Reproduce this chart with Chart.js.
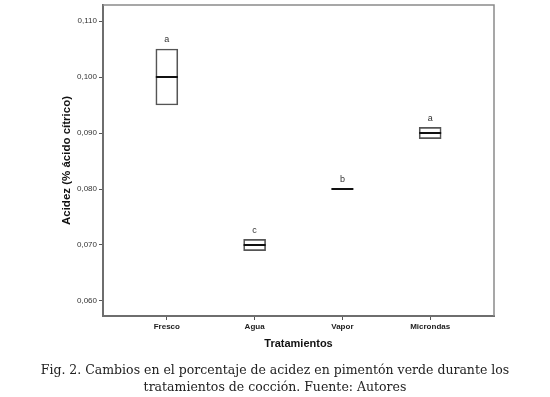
<!DOCTYPE html>
<html>
<head>
<meta charset="utf-8">
<script src="https://cdn.jsdelivr.net/npm/chart.js@4.4.1/dist/chart.umd.min.js"></script>
<style>
  html, body { margin: 0; padding: 0; background: #ffffff; }
  #wrap { position: relative; width: 550px; height: 397px; }
  #c { position: absolute; left: 0; top: 0; }
  #caption { position: absolute; left: 0; top: 361px; width: 550px; text-align: center;
    font-family: "DejaVu Serif", serif; font-size: 12.5px; line-height: 17px; color: #222; }
</style>
</head>
<body>
<div id="wrap">
  <canvas id="c" width="550" height="397"></canvas>
  <div id="caption">Fig. 2. Cambios en el porcentaje de acidez en pimentón verde durante los<br>tratamientos de cocción. Fuente: Autores</div>
</div>
<script>
const categories = ['Fresco', 'Agua', 'Vapor', 'Microndas'];
const q1Values = [0.095, 0.069, 0.080, 0.089];
const medianValues = [0.100, 0.070, 0.080, 0.090];
const q3Values = [0.105, 0.071, 0.080, 0.091];
const groupLetters = ['a', 'c', 'b', 'a'];
const yTickValues = [0.060, 0.070, 0.080, 0.090, 0.100, 0.110];
const xTitle = 'Tratamientos';
const yTitle = 'Acidez (% ácido cítrico)';

const boxData = categories.map((c, i) => ({ x: i, y: [q1Values[i], q3Values[i]] }));
const medianData = categories.map((c, i) => ({ x: i, y: medianValues[i] }));

const decor = {
  id: 'decor',
  afterDraw(chart) {
    const ctx = chart.ctx;
    const a = chart.chartArea;
    const xs = chart.scales.x, ys = chart.scales.y;
    ctx.save();
    // top and right frame
    ctx.strokeStyle = '#8a8a8a';
    ctx.lineWidth = 1.5;
    ctx.beginPath();
    ctx.moveTo(a.left, a.top);
    ctx.lineTo(a.right, a.top);
    ctx.lineTo(a.right, a.bottom);
    ctx.stroke();
    // group letters
    ctx.fillStyle = '#333';
    ctx.font = '9px "Liberation Sans", Arial, sans-serif';
    ctx.textAlign = 'center';
    ctx.textBaseline = 'middle';
    categories.forEach((c, i) => {
      ctx.fillText(groupLetters[i], xs.getPixelForValue(i), ys.getPixelForValue(q3Values[i]) - 9);
    });
    // axis titles
    ctx.fillStyle = '#111';
    ctx.font = 'bold 11px "Liberation Sans", Arial, sans-serif';
    ctx.fillText(xTitle, (a.left + a.right) / 2, 344);
    ctx.translate(67, (a.top + a.bottom) / 2);
    ctx.rotate(-Math.PI / 2);
    ctx.font = 'bold 11.5px "Liberation Sans", Arial, sans-serif';
    ctx.fillText(yTitle, 0, 0);
    ctx.restore();
  }
};

new Chart(document.getElementById('c'), {
  type: 'bar',
  data: {
    datasets: [
      {
        type: 'bar',
        data: boxData,
        backgroundColor: 'rgba(255,255,255,0)',
        borderColor: '#555',
        borderWidth: 1,
        borderSkipped: false,
        barThickness: 22,
        order: 2
      },
      {
        type: 'scatter',
        data: medianData,
        pointStyle: 'line',
        radius: 11,
        borderColor: '#111',
        borderWidth: 2,
        order: 1
      }
    ]
  },
  options: {
    responsive: false,
    animation: false,
    events: [],
    layout: { autoPadding: false, padding: { left: 0, right: 56, top: 5, bottom: 41 } },
    plugins: { legend: { display: false }, tooltip: { enabled: false }, title: { display: false } },
    scales: {
      x: {
        type: 'linear',
        offset: false,
        min: -0.7273,
        max: 3.7273,
        afterBuildTicks: s => { s.ticks = categories.map((c, i) => ({ value: i })); },
        afterFit: s => { s.height = 40; s.paddingLeft = 0; s.paddingRight = 0; },
        grid: { offset: false, drawOnChartArea: false, drawTicks: true, tickLength: 4, color: '#555', lineWidth: 1 },
        border: { display: true, color: '#6e6e6e', width: 2 },
        ticks: {
          callback: v => categories[v],
          color: '#222',
          font: { family: '"Liberation Sans", Arial, sans-serif', size: 8, weight: 'bold' },
          padding: 2,
          maxRotation: 0,
          autoSkip: false
        }
      },
      y: {
        type: 'linear',
        min: 0.05732,
        max: 0.11286,
        afterBuildTicks: s => { s.ticks = yTickValues.map(v => ({ value: v })); },
        afterFit: s => { s.width = 103; s.paddingTop = 0; s.paddingBottom = 0; },
        grid: { drawOnChartArea: false, drawTicks: true, tickLength: 4, color: '#555', lineWidth: 1 },
        border: { display: true, color: '#6e6e6e', width: 2 },
        ticks: {
          callback: v => v.toFixed(3).replace('.', ','),
          color: '#333',
          font: { family: '"Liberation Sans", Arial, sans-serif', size: 8 },
          padding: 2,
          autoSkip: false
        }
      }
    }
  },
  plugins: [decor]
});
</script>
</body>
</html>
